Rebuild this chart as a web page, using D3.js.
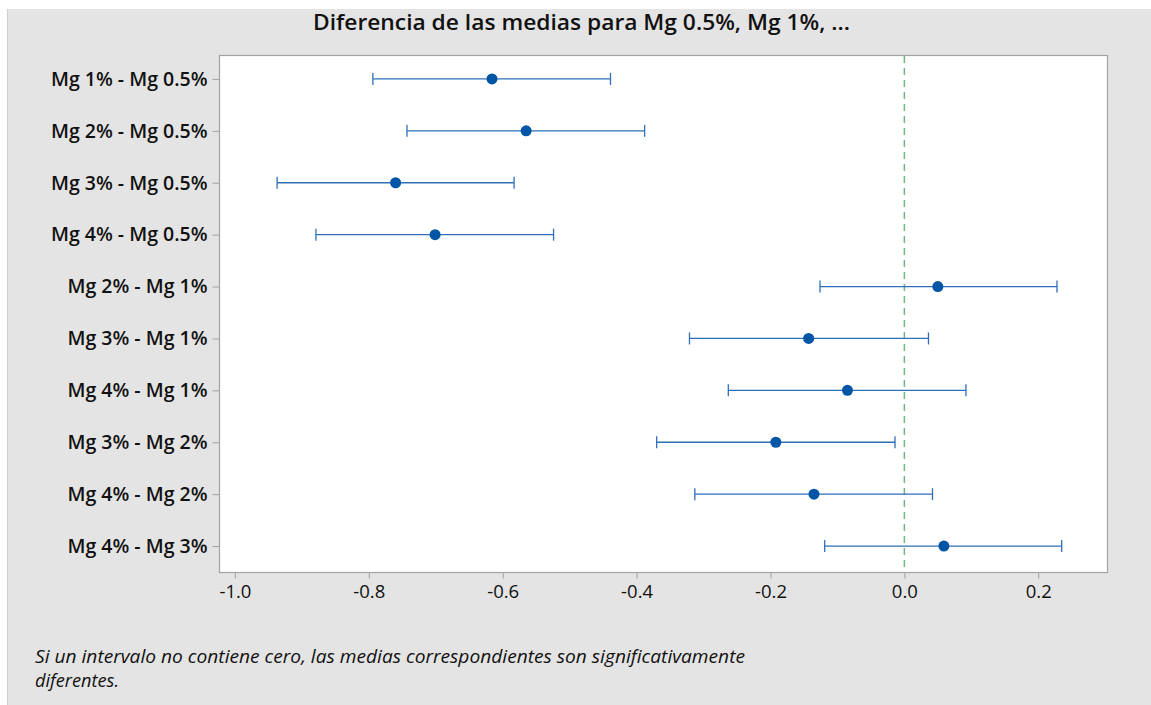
<!DOCTYPE html>
<html>
<head>
<meta charset="utf-8">
<script src="https://cdn.jsdelivr.net/npm/d3@7/dist/d3.min.js"></script>
<style>
  html, body { margin: 0; padding: 0; background: #ffffff; }
  svg { display: block; }
  text { font-family: "Open Sans", "Noto Sans", "DejaVu Sans", sans-serif; fill: #111; }
</style>
</head>
<body>
<svg id="chart" width="1151" height="705"></svg>
<script>
// Tukey simultaneous 95% intervals for the pairwise differences of means
const comparisons = [
  "Mg 1% - Mg 0.5%", "Mg 2% - Mg 0.5%", "Mg 3% - Mg 0.5%", "Mg 4% - Mg 0.5%",
  "Mg 2% - Mg 1%", "Mg 3% - Mg 1%", "Mg 4% - Mg 1%",
  "Mg 3% - Mg 2%", "Mg 4% - Mg 2%", "Mg 4% - Mg 3%"
];
const meanDiff = [-0.616, -0.565, -0.760, -0.701, 0.050, -0.143, -0.085, -0.192, -0.135, 0.059];
const lowerCI  = [-0.794, -0.743, -0.937, -0.879, -0.126, -0.321, -0.263, -0.370, -0.313, -0.119];
const upperCI  = [-0.439, -0.388, -0.583, -0.524, 0.228, 0.036, 0.092, -0.014, 0.042, 0.235];
const xTicks = [-1.0, -0.8, -0.6, -0.4, -0.2, 0.0, 0.2];
const titleText = "Diferencia de las medias para Mg 0.5%, Mg 1%, ...";
const noteLines = [
  "Si un intervalo no contiene cero, las medias correspondientes son significativamente",
  "diferentes."
];

const rows = comparisons.map((c, i) => ({ label: c, mean: meanDiff[i], lo: lowerCI[i], hi: upperCI[i] }));

const svg = d3.select("#chart");
const W = 1151, H = 705;
const plot = { left: 219, right: 1107, top: 55, bottom: 572 };

// outer panel
svg.append("rect").attr("x", 7).attr("y", 9).attr("width", W - 7).attr("height", H - 9)
  .attr("fill", "#e4e4e4");
svg.append("line").attr("x1", 7.5).attr("x2", 7.5).attr("y1", 9).attr("y2", H)
  .attr("stroke", "#cfcfcf");

const x = d3.scaleLinear().domain([-1.0238, 0.3027]).range([plot.left, plot.right]);
const y = d3.scalePoint().domain(comparisons).range([53, 572]).padding(0.5);

// data region
svg.append("rect")
  .attr("x", plot.left + 0.5).attr("y", plot.top + 0.5)
  .attr("width", plot.right - plot.left).attr("height", plot.bottom - plot.top)
  .attr("fill", "#ffffff").attr("stroke", "#a3a3a3").attr("stroke-width", 1.2);

// x axis
const xAxis = svg.append("g").attr("transform", `translate(0,${plot.bottom + 0.5})`)
  .call(d3.axisBottom(x).tickValues(xTicks).tickFormat(d3.format(".1f")).tickSize(6).tickPadding(6));
xAxis.select(".domain").remove();
xAxis.selectAll(".tick line").attr("stroke", "#a3a3a3");
xAxis.selectAll(".tick text").attr("font-size", 18.5).attr("fill", "#111")
  .attr("font-family", "'Open Sans', sans-serif").text(d => d3.format(".1f")(d).replace("−", "-"));

// y axis with comparison labels
const yAxis = svg.append("g").attr("transform", `translate(${plot.left + 0.5},0)`)
  .call(d3.axisLeft(y).tickSize(7).tickPadding(5));
yAxis.select(".domain").remove();
yAxis.selectAll(".tick line").attr("stroke", "#a3a3a3");
yAxis.selectAll(".tick text").attr("font-size", 19.5).attr("font-weight", 600).attr("fill", "#111")
  .attr("font-family", "'Open Sans', sans-serif");

// zero reference line
svg.append("line")
  .attr("x1", x(0)).attr("x2", x(0)).attr("y1", plot.top + 1).attr("y2", plot.bottom)
  .attr("stroke", "#6db77f").attr("stroke-width", 1.5).attr("stroke-dasharray", "7,5");

// intervals
const g = svg.append("g");
const capH = 6;
g.selectAll("line.ci").data(rows).join("line").attr("class", "ci")
  .attr("x1", d => x(d.lo)).attr("x2", d => x(d.hi))
  .attr("y1", d => y(d.label)).attr("y2", d => y(d.label))
  .attr("stroke", "#2f6fba").attr("stroke-width", 1.3);
g.selectAll("line.capL").data(rows).join("line").attr("class", "capL")
  .attr("x1", d => x(d.lo)).attr("x2", d => x(d.lo))
  .attr("y1", d => y(d.label) - capH).attr("y2", d => y(d.label) + capH)
  .attr("stroke", "#2f6fba").attr("stroke-width", 1.3);
g.selectAll("line.capR").data(rows).join("line").attr("class", "capR")
  .attr("x1", d => x(d.hi)).attr("x2", d => x(d.hi))
  .attr("y1", d => y(d.label) - capH).attr("y2", d => y(d.label) + capH)
  .attr("stroke", "#2f6fba").attr("stroke-width", 1.3);
g.selectAll("circle").data(rows).join("circle")
  .attr("cx", d => x(d.mean)).attr("cy", d => y(d.label)).attr("r", 5.5)
  .attr("fill", "#0055a7");

// title
svg.append("text").attr("x", 313).attr("y", 30)
  .attr("font-size", 21.5).attr("font-weight", 600)
  .attr("textLength", 537).attr("lengthAdjust", "spacingAndGlyphs")
  .text(titleText);

// footnote
const noteWidths = [710, 84];
svg.selectAll("text.note").data(noteLines).join("text").attr("class", "note")
  .attr("x", 35).attr("y", (d, i) => 663 + i * 24)
  .attr("font-size", 19).attr("font-style", "italic")
  .attr("textLength", (d, i) => noteWidths[i]).attr("lengthAdjust", "spacingAndGlyphs")
  .text(d => d);
</script>
</body>
</html>
